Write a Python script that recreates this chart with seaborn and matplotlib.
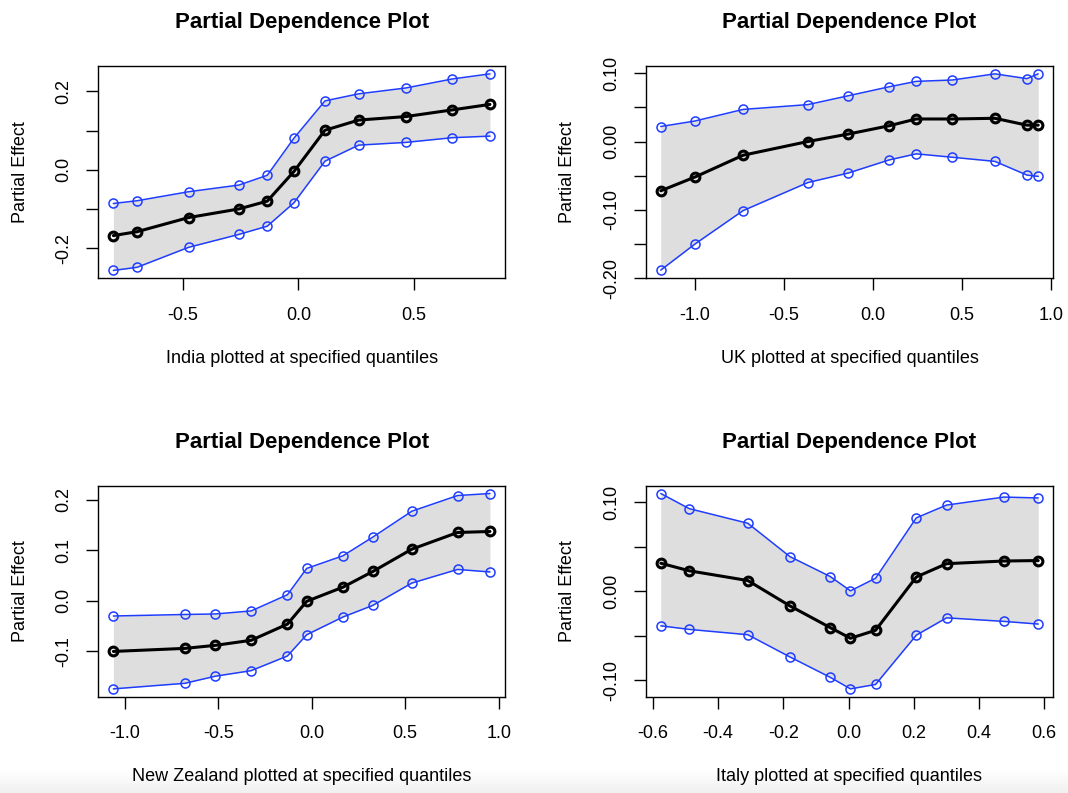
import matplotlib
matplotlib.use("Agg")
import matplotlib.pyplot as plt
import numpy as np
import seaborn as sns

# Partial dependence estimates (x quantile, fit, upper band, lower band)
india_x = [-0.802, -0.699, -0.476, -0.258, -0.135, -0.019, 0.115, 0.261, 0.466, 0.667, 0.830]
india_fit = [-0.168, -0.158, -0.122, -0.100, -0.080, -0.004, 0.101, 0.127, 0.136, 0.153, 0.167]
india_upper = [-0.086, -0.079, -0.056, -0.039, -0.014, 0.081, 0.176, 0.194, 0.209, 0.232, 0.245]
india_lower = [-0.257, -0.249, -0.198, -0.165, -0.144, -0.084, 0.022, 0.063, 0.070, 0.082, 0.086]

uk_x = [-1.190, -0.999, -0.728, -0.365, -0.137, 0.090, 0.243, 0.447, 0.685, 0.864, 0.928]
uk_fit = [-0.072, -0.052, -0.020, 0.000, 0.011, 0.023, 0.033, 0.033, 0.034, 0.024, 0.024]
uk_upper = [0.022, 0.030, 0.047, 0.054, 0.067, 0.080, 0.088, 0.090, 0.099, 0.092, 0.099]
uk_lower = [-0.188, -0.150, -0.101, -0.060, -0.046, -0.027, -0.018, -0.023, -0.029, -0.049, -0.051]

nz_x = [-1.061, -0.679, -0.516, -0.324, -0.130, -0.027, 0.167, 0.327, 0.535, 0.780, 0.953]
nz_fit = [-0.100, -0.094, -0.088, -0.078, -0.046, -0.001, 0.027, 0.058, 0.102, 0.135, 0.137]
nz_upper = [-0.030, -0.027, -0.026, -0.020, 0.012, 0.064, 0.089, 0.126, 0.177, 0.208, 0.212]
nz_lower = [-0.174, -0.163, -0.149, -0.138, -0.109, -0.067, -0.032, -0.009, 0.035, 0.062, 0.057]

italy_x = [-0.576, -0.489, -0.309, -0.180, -0.056, 0.006, 0.083, 0.208, 0.301, 0.477, 0.582]
italy_fit = [0.0315, 0.023, 0.012, -0.0165, -0.041, -0.053, -0.044, 0.016, 0.031, 0.034, 0.0345]
italy_upper = [0.110, 0.093, 0.0765, 0.039, 0.0165, 0.0004, 0.0146, 0.0826, 0.097, 0.106, 0.105]
italy_lower = [-0.039, -0.043, -0.049, -0.074, -0.097, -0.110, -0.105, -0.0495, -0.030, -0.034, -0.037]

# tick positions and which of them carry labels
india_xticks = [-0.5, 0.0, 0.5]
india_yticks = [-0.2, -0.1, 0.0, 0.1, 0.2]
india_ylabels = ["-0.2", "", "0.0", "", "0.2"]
uk_xticks = [-1.0, -0.5, 0.0, 0.5, 1.0]
uk_yticks = [-0.20, -0.15, -0.10, -0.05, 0.00, 0.05, 0.10]
uk_ylabels = ["-0.20", "", "-0.10", "", "0.00", "", "0.10"]
nz_xticks = [-1.0, -0.5, 0.0, 0.5, 1.0]
nz_yticks = [-0.1, 0.0, 0.1, 0.2]
nz_ylabels = ["-0.1", "0.0", "0.1", "0.2"]
italy_xticks = [-0.6, -0.4, -0.2, 0.0, 0.2, 0.4, 0.6]
italy_yticks = [-0.10, -0.05, 0.00, 0.05, 0.10]
italy_ylabels = ["-0.10", "", "0.00", "", "0.10"]

sns.set_style("ticks")
plt.rcParams['font.family'] = ['Liberation Sans', 'DejaVu Sans']
plt.rcParams['axes.unicode_minus'] = False
plt.rcParams['text.color'] = 'black'
plt.rcParams['axes.labelcolor'] = 'black'
plt.rcParams['xtick.color'] = 'black'
plt.rcParams['ytick.color'] = 'black'

W, H = 1068, 793
fig = plt.figure(figsize=(W / 100, H / 100), dpi=100)

# faint grey fade at the bottom edge of the screenshot
fade = fig.add_axes([0, 0, 1, 24 / H], zorder=-5)
fade.imshow(np.linspace(0.94, 1.0, 24).reshape(-1, 1), cmap="gray", vmin=0, vmax=1,
            aspect="auto", origin="lower", extent=[0, 1, 0, 1])
fade.set_axis_off()


def axes_at(left, top, right, bottom):
    return fig.add_axes([left / W, 1 - bottom / H, (right - left) / W, (bottom - top) / H])


def pd_panel(ax, name, x, fit, upper, lower, xticks, yticks, ylabels):
    ax.fill_between(x, lower, upper, color="#dedede", linewidth=0)
    for band in (upper, lower):
        sns.lineplot(x=x, y=band, ax=ax, sort=False, estimator=None, color="#1f3dff",
                     linewidth=1.1, marker="o", markersize=6.5, markerfacecolor="none",
                     markeredgecolor="#1f3dff", markeredgewidth=1.1)
    sns.lineplot(x=x, y=fit, ax=ax, sort=False, estimator=None, color="black",
                 linewidth=2.2, marker="o", markersize=6.3, markerfacecolor="none",
                 markeredgecolor="black", markeredgewidth=2.2)
    ax.margins(0.04)
    ax.set_xticks(xticks)
    ax.set_xticklabels([f"{t:.1f}" for t in xticks])
    ax.set_yticks(yticks)
    ax.set_yticklabels(ylabels, rotation=90, va="center")
    ax.tick_params(length=8.5, width=1, labelsize=13, color="black", labelcolor="black")
    ax.tick_params(axis="x", pad=12)
    ax.tick_params(axis="y", pad=10)
    for s in ax.spines.values():
        s.set_color("black")
        s.set_linewidth(1.0)
    ax.set_xlabel(f"{name} plotted at specified quantiles", fontsize=13)
    ax.set_ylabel("Partial Effect", fontsize=13)
    ax.xaxis.set_label_coords(0.5, -0.377)
    ax.xaxis.label.set_va("center")
    ax.yaxis.set_label_coords(-0.192, 0.5)
    ax.yaxis.label.set_va("center")
    ax.text(0.5, 1.205, "Partial Dependence Plot", transform=ax.transAxes,
            ha="center", va="center", fontsize=16, fontweight="bold")


ax1 = axes_at(98.3, 66, 505, 278.3)
pd_panel(ax1, "India", india_x, india_fit, india_upper, india_lower,
         india_xticks, india_yticks, india_ylabels)
ax2 = axes_at(645.7, 66, 1053.3, 278.3)
pd_panel(ax2, "UK", uk_x, uk_fit, uk_upper, uk_lower,
         uk_xticks, uk_yticks, uk_ylabels)
ax3 = axes_at(98.3, 485.7, 505, 696.7)
pd_panel(ax3, "New Zealand", nz_x, nz_fit, nz_upper, nz_lower,
         nz_xticks, nz_yticks, nz_ylabels)
ax4 = axes_at(645.7, 485.7, 1053.3, 696.7)
pd_panel(ax4, "Italy", italy_x, italy_fit, italy_upper, italy_lower,
         italy_xticks, italy_yticks, italy_ylabels)

fig.savefig("out.png", dpi=100)
